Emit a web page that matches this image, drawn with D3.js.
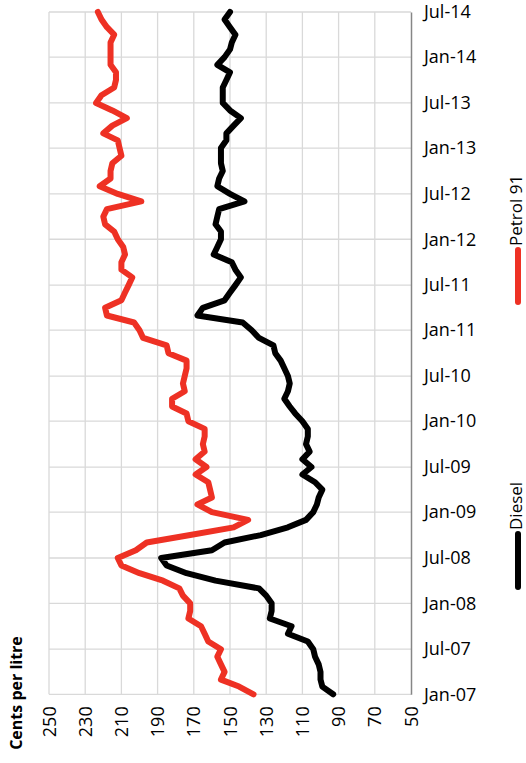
<!DOCTYPE html>
<html>
<head>
<meta charset="utf-8">
<script src="https://cdn.jsdelivr.net/npm/d3@7"></script>
<style>
  body { margin: 0; background: #fff; }
  text { font-family: "Open Sans", "Noto Sans", sans-serif; fill: #000; }
</style>
</head>
<body>
<div id="chart"></div>
<script>
var width = 526,
    height = 763,
    margin = { top: 12, right: 115, bottom: 69, left: 49 };

// monthly, Jan-07 .. Jul-14
var startMonth = new Date(2007, 0, 1);

var petrol91 = [
    137, 145, 155, 153, 155, 157, 155, 162, 164, 166, 173, 172,
    172, 176, 178, 187, 200, 210, 212, 202, 196, 172, 148, 140,
    160, 168, 160, 161, 162, 169, 163, 169, 164, 165, 164, 164,
    173, 174, 182, 182, 175, 176, 175, 174, 174, 184, 185, 198,
    200, 203, 218, 219, 210, 208, 206, 204, 210, 210, 208, 209,
    212, 214, 219, 220, 218, 199, 212, 222, 216, 216, 215, 210,
    211, 212, 220, 215, 207, 215, 224, 221, 214, 213, 213, 216,
    216, 216, 216, 214, 218, 221, 223
];

var diesel = [
    93, 99, 100, 100, 101, 103, 104, 107, 118, 116, 128, 127,
    127, 130, 134, 158, 174, 185, 188, 160, 153, 133, 118, 108,
    104, 102, 101, 99, 103, 110, 105, 110, 106, 108, 107, 107,
    110, 114, 117, 120, 118, 117, 118, 120, 122, 125, 126, 134,
    138, 143, 168, 165, 153, 150, 147, 144, 147, 149, 159, 157,
    155, 155, 158, 157, 156, 142, 150, 157, 156, 154, 155, 155,
    155, 152, 152, 148, 144, 150, 154, 154, 154, 152, 150, 157,
    153, 150, 149, 147, 150, 153, 150
];

var valueTicks = [250, 230, 210, 190, 170, 150, 130, 110, 90, 70, 50];
var dateTicks = ['Jan-07', 'Jul-07', 'Jan-08', 'Jul-08', 'Jan-09', 'Jul-09', 'Jan-10', 'Jul-10',
                 'Jan-11', 'Jul-11', 'Jan-12', 'Jul-12', 'Jan-13', 'Jul-13', 'Jan-14', 'Jul-14'];

var seriesNames = ['Petrol 91', 'Diesel'];
var seriesColors = ['#EE3124', '#000000'];

var months = petrol91.map(function(d, i){ return new Date(2007, i, 1); });
var tickDates = dateTicks.map(function(d, i){ return new Date(2007, i * 6, 1); });

// chart is drawn turned on its side: time runs upwards, values run right-to-left
var yScale = d3.scaleTime()
    .domain([startMonth, new Date(2014, 6, 1)])
    .range([height - margin.bottom + 0.3, margin.top]);

var xScale = d3.scaleLinear()
    .domain([250, 50])
    .range([margin.left, width - margin.right]);

var svg = d3.select('#chart').append('svg')
    .attr('width', width)
    .attr('height', height);

// gridlines
svg.append('g').attr('class', 'grid-v')
    .selectAll('line')
    .data(valueTicks.slice(0, -1))
    .enter().append('line')
    .attr('x1', function(d){ return xScale(d); })
    .attr('x2', function(d){ return xScale(d); })
    .attr('y1', yScale.range()[0])
    .attr('y2', yScale.range()[1])
    .attr('stroke', '#d9d9d9')
    .attr('stroke-width', 1.3);

svg.append('g').attr('class', 'grid-h')
    .selectAll('line')
    .data(tickDates)
    .enter().append('line')
    .attr('x1', xScale(250))
    .attr('x2', xScale(50))
    .attr('y1', function(d){ return yScale(d); })
    .attr('y2', function(d){ return yScale(d); })
    .attr('stroke', '#d9d9d9')
    .attr('stroke-width', 1.3);

// date axis (the original category axis)
var dateAxis = d3.axisRight(yScale)
    .tickValues(tickDates)
    .tickFormat(function(d, i){ return dateTicks[i]; })
    .tickSize(0)
    .tickPadding(13);

var gDate = svg.append('g')
    .attr('transform', 'translate(' + xScale(50) + ',0)')
    .call(dateAxis);

gDate.select('.domain').attr('stroke', '#868686').attr('stroke-width', 1.5);
gDate.selectAll('text')
    .style('font-family', '"Open Sans", sans-serif')
    .style('font-size', '18px')
    .attr('fill', '#000');

// value axis, labels turned
svg.append('g').attr('class', 'value-labels')
    .selectAll('text')
    .data(valueTicks)
    .enter().append('text')
    .attr('transform', function(d){
        return 'translate(' + (xScale(d) + 6.5) + ',' + (yScale.range()[0] + 12) + ') rotate(-90)';
    })
    .attr('text-anchor', 'end')
    .style('font-size', '18px')
    .text(function(d){ return d; });

svg.append('text')
    .attr('transform', 'translate(22,' + 693 + ') rotate(-90)')
    .attr('text-anchor', 'middle')
    .style('font-size', '16px')
    .style('font-weight', 'bold')
    .text('Cents per litre');

// lines
var line = d3.line()
    .x(function(d){ return xScale(d); })
    .y(function(d, i){ return yScale(months[i]); });

[petrol91, diesel].forEach(function(s, k){
    svg.append('path')
        .datum(s)
        .attr('fill', 'none')
        .attr('stroke', seriesColors[k])
        .attr('stroke-width', 6)
        .attr('stroke-linejoin', 'round')
        .attr('stroke-linecap', 'round')
        .attr('d', line);
});

// legend
var legendPos = [{ y0: 302, y1: 250, ty: 246 }, { y0: 587, y1: 534, ty: 530 }];
legendPos.forEach(function(p, k){
    svg.append('line')
        .attr('x1', 518).attr('x2', 518)
        .attr('y1', p.y0).attr('y2', p.y1)
        .attr('stroke', seriesColors[k])
        .attr('stroke-width', 6)
        .attr('stroke-linecap', 'round');
    svg.append('text')
        .attr('transform', 'translate(522,' + p.ty + ') rotate(-90)')
        .attr('text-anchor', 'start')
        .style('font-size', '17px')
        .text(seriesNames[k]);
});
</script>
</body>
</html>
